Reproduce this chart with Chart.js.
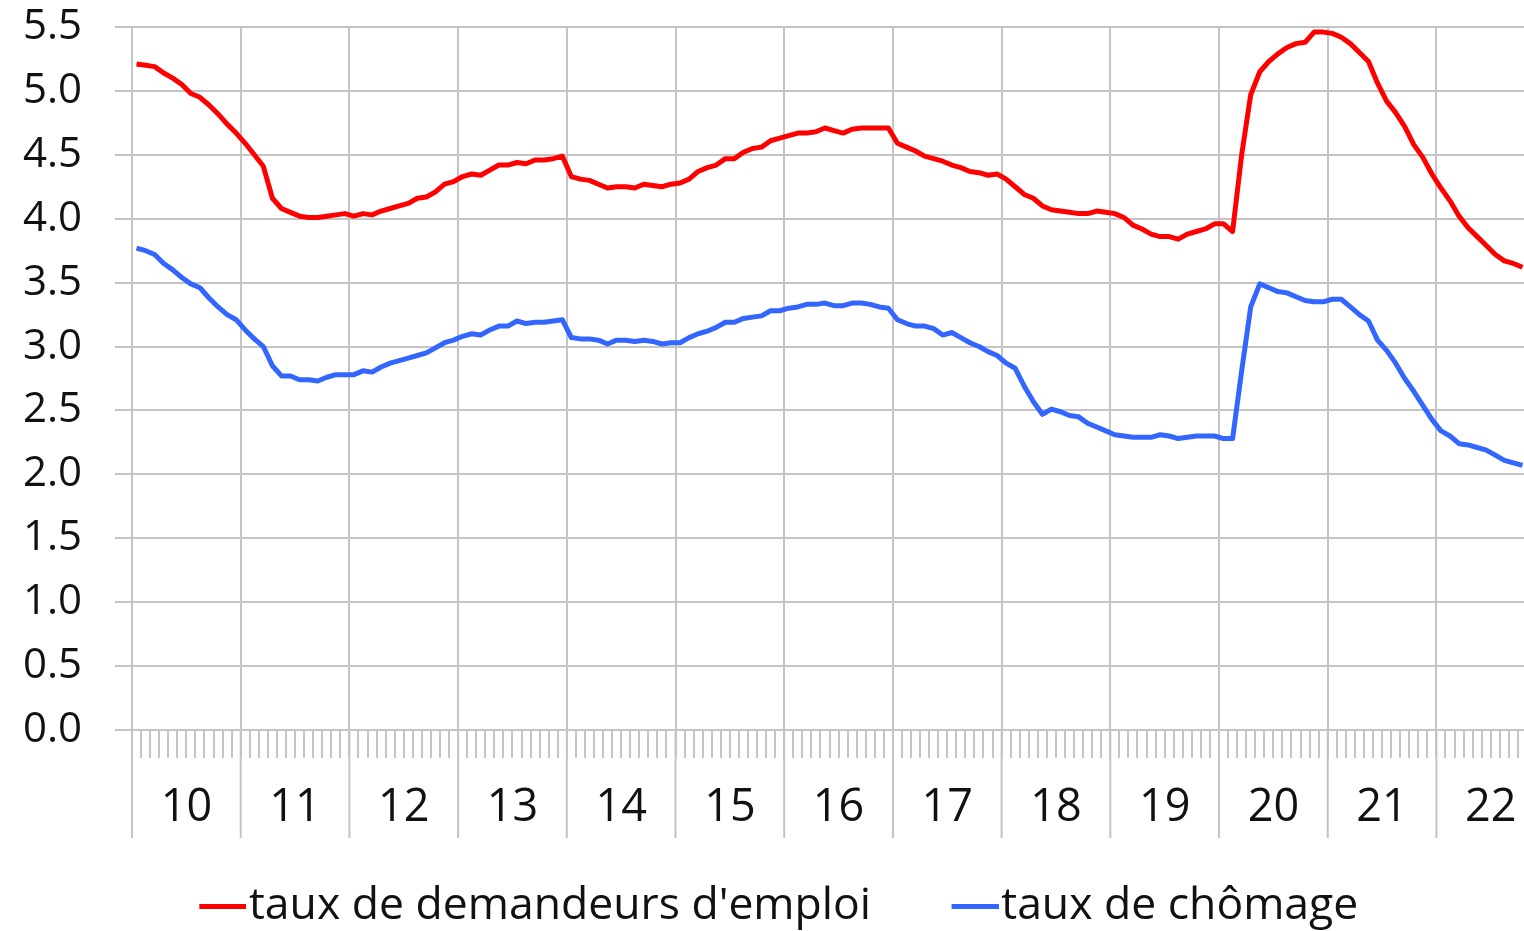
<!DOCTYPE html>
<html lang="fr">
<head>
  <meta charset="UTF-8" />
  <title>Taux de demandeurs d'emploi et taux de chômage</title>
  <script src="https://cdn.jsdelivr.net/npm/chart.js"></script>
  <style>
    html, body { margin: 0; padding: 0; background: #fff; overflow: hidden; }
    #wrap { width: 1560px; height: 931px; position: relative; }
  </style>
</head>
<body>
  <div id="wrap"><canvas id="chart"></canvas></div>

  <script>
    // years shown on the axis, 2022 is only partly available (Jan - Oct)
    const years = ['10', '11', '12', '13', '14', '15', '16', '17', '18', '19', '20', '21', '22'];
    const monthsLastYear = 10;

    const demandeurs = [
      5.21, 5.20, 5.19, 5.14, 5.10, 5.05, 4.98, 4.95, 4.89, 4.82, 4.74, 4.67,
      4.59, 4.50, 4.41, 4.16, 4.08, 4.05, 4.02, 4.01, 4.01, 4.02, 4.03, 4.04,
      4.02, 4.04, 4.03, 4.06, 4.08, 4.10, 4.12, 4.16, 4.17, 4.21, 4.27, 4.29,
      4.33, 4.35, 4.34, 4.38, 4.42, 4.42, 4.44, 4.43, 4.46, 4.46, 4.47, 4.49,
      4.33, 4.31, 4.30, 4.27, 4.24, 4.25, 4.25, 4.24, 4.27, 4.26, 4.25, 4.27,
      4.28, 4.31, 4.37, 4.40, 4.42, 4.47, 4.47, 4.52, 4.55, 4.56, 4.61, 4.63,
      4.65, 4.67, 4.67, 4.68, 4.71, 4.69, 4.67, 4.70, 4.71, 4.71, 4.71, 4.71,
      4.59, 4.56, 4.53, 4.49, 4.47, 4.45, 4.42, 4.40, 4.37, 4.36, 4.34, 4.35,
      4.31, 4.25, 4.19, 4.16, 4.10, 4.07, 4.06, 4.05, 4.04, 4.04, 4.06, 4.05,
      4.04, 4.01, 3.95, 3.92, 3.88, 3.86, 3.86, 3.84, 3.88, 3.90, 3.92, 3.96,
      3.96, 3.90, 4.50, 4.97, 5.15, 5.23, 5.29, 5.34, 5.37, 5.38, 5.46, 5.46,
      5.45, 5.42, 5.37, 5.30, 5.23, 5.06, 4.92, 4.83, 4.72, 4.58, 4.48, 4.35,
      4.24, 4.14, 4.02, 3.93, 3.86, 3.79, 3.72, 3.67, 3.65, 3.62
    ];

    const chomage = [
      3.77, 3.75, 3.72, 3.65, 3.60, 3.54, 3.49, 3.46, 3.38, 3.31, 3.25, 3.21,
      3.13, 3.06, 3.00, 2.85, 2.77, 2.77, 2.74, 2.74, 2.73, 2.76, 2.78, 2.78,
      2.78, 2.81, 2.80, 2.84, 2.87, 2.89, 2.91, 2.93, 2.95, 2.99, 3.03, 3.05,
      3.08, 3.10, 3.09, 3.13, 3.16, 3.16, 3.20, 3.18, 3.19, 3.19, 3.20, 3.21,
      3.07, 3.06, 3.06, 3.05, 3.02, 3.05, 3.05, 3.04, 3.05, 3.04, 3.02, 3.03,
      3.03, 3.07, 3.10, 3.12, 3.15, 3.19, 3.19, 3.22, 3.23, 3.24, 3.28, 3.28,
      3.30, 3.31, 3.33, 3.33, 3.34, 3.32, 3.32, 3.34, 3.34, 3.33, 3.31, 3.30,
      3.21, 3.18, 3.16, 3.16, 3.14, 3.09, 3.11, 3.07, 3.03, 3.00, 2.96, 2.93,
      2.87, 2.83, 2.69, 2.57, 2.47, 2.51, 2.49, 2.46, 2.45, 2.40, 2.37, 2.34,
      2.31, 2.30, 2.29, 2.29, 2.29, 2.31, 2.30, 2.28, 2.29, 2.30, 2.30, 2.30,
      2.28, 2.28, 2.81, 3.31, 3.49, 3.46, 3.43, 3.42, 3.39, 3.36, 3.35, 3.35,
      3.37, 3.37, 3.31, 3.25, 3.20, 3.05, 2.97, 2.87, 2.75, 2.65, 2.54, 2.43,
      2.34, 2.30, 2.24, 2.23, 2.21, 2.19, 2.15, 2.11, 2.09, 2.07
    ];

    // one category per month, e.g. "10-01"
    const labels = [];
    years.forEach((y, k) => {
      const n = k === years.length - 1 ? monthsLastYear : 12;
      for (let m = 1; m <= n; m++) labels.push(y + '-' + String(m).padStart(2, '0'));
    });

    const gridColor = '#c4c4c4';
    const textColor = '#111';
    const font = '"Open Sans", "Noto Sans", sans-serif';

    // short line used as legend symbol, drawn right next to the text
    function legendLine(color) {
      const c = document.createElement('canvas');
      c.width = 97;
      c.height = 5;
      const g = c.getContext('2d');
      g.fillStyle = color;
      g.fillRect(50, 0, 47, 5);
      return c;
    }

    // year separators go further down, through the label row
    const yearSeparators = {
      id: 'yearSeparators',
      afterDraw(chart) {
        const x = chart.scales.x;
        const ctx = chart.ctx;
        ctx.save();
        ctx.strokeStyle = gridColor;
        ctx.lineWidth = 2;
        for (let j = 0; j < labels.length; j += 12) {
          const px = j === 0 ? x.left : (x.getPixelForValue(j - 1) + x.getPixelForValue(j)) / 2;
          ctx.beginPath();
          ctx.moveTo(px, x.top);
          ctx.lineTo(px, x.top + 108);
          ctx.stroke();
        }
        ctx.restore();
      }
    };

    const yearLine = ctx => (ctx.index % 12 === 0 ? gridColor : 'rgba(0,0,0,0)');

    new Chart(document.getElementById('chart'), {
      type: 'line',
      data: {
        labels: labels,
        datasets: [
          {
            label: "taux de demandeurs d'emploi",
            data: demandeurs,
            borderColor: '#ff0000',
            backgroundColor: '#ff0000',
            borderWidth: 5,
            pointRadius: 0,
            pointStyle: legendLine('#ff0000'),
            tension: 0,
            borderJoinStyle: 'round'
          },
          {
            label: 'taux de chômage',
            data: chomage,
            borderColor: '#3366ff',
            backgroundColor: '#3366ff',
            borderWidth: 5,
            pointRadius: 0,
            pointStyle: legendLine('#3366ff'),
            tension: 0,
            borderJoinStyle: 'round'
          }
        ]
      },
      options: {
        responsive: true,
        maintainAspectRatio: false,
        animation: false,
        layout: { padding: { top: 0, right: 33, bottom: -7.5, left: 0 } },
        plugins: {
          tooltip: { enabled: false },
          legend: {
            position: 'bottom',
            labels: {
              usePointStyle: true,
              pointStyleWidth: 58,
              boxHeight: 5,
              padding: 50,
              color: textColor,
              font: { family: font, size: 44.5 }
            }
          }
        },
        scales: {
          x: {
            offset: true,
            afterFit: s => { s.height = 104; },
            grid: {
              offset: true,
              color: yearLine,
              tickColor: gridColor,
              lineWidth: 2,
              tickLength: 28
            },
            border: { display: false },
            ticks: {
              autoSkip: false,
              maxRotation: 0,
              minRotation: 0,
              padding: 23,
              labelOffset: -4.5,
              color: textColor,
              font: { family: font, size: 45 },
              callback: (v, i) => (i % 12 === 6 ? years[Math.floor(i / 12)] : '')
            }
          },
          y: {
            min: 0,
            max: 5.5,
            afterFit: s => { s.width = 132; s.paddingTop = 27; },
            grid: { color: gridColor, lineWidth: 2, tickLength: 17 },
            border: { display: false },
            ticks: {
              stepSize: 0.5,
              padding: 33,
              color: textColor,
              font: { family: font, size: 42 },
              callback: v => v.toFixed(1)
            }
          }
        }
      },
      plugins: [yearSeparators]
    });
  </script>
</body>
</html>
